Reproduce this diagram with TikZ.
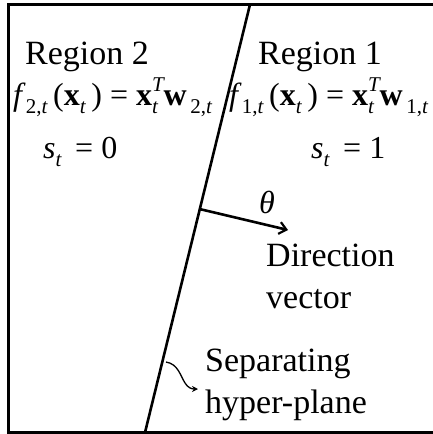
\documentclass[tikz,border=0pt]{standalone}
\usepackage{fontspec}
\setmainfont{Liberation Serif}
\usetikzlibrary{arrows.meta,calc}

% small lowered / raised indices for the formulas
\newcommand{\sbs}[1]{\raisebox{-0.28em}{\fontsize{21}{21}\selectfont #1}}
\newcommand{\sps}[1]{\raisebox{0.42em}{\fontsize{21}{21}\selectfont #1}}
\newcommand{\supsub}[2]{\makebox[0pt][l]{\sps{#1}}\sbs{#2}}

\tikzset{
    lbl/.style={inner sep=0pt, anchor=base west, font=\fontsize{34}{42}\selectfont},
    eqn/.style={inner sep=0pt, anchor=base west, font=\fontsize{32}{38}\selectfont},
    edge/.style={line width=2.6pt},
}

\begin{document}
\begin{tikzpicture}[x=1pt, y=-1pt]
    \useasboundingbox (0,0) rectangle (432,434);

    % Frame
    \draw[edge] (434,4.5) -- (8.5,4.5) -- (8.5,432.5) -- (434,432.5);

    % Separating hyper-plane
    \coordinate (ptop) at (250,4.5);
    \coordinate (pbot) at (145,432.5);
    \draw[edge] (ptop) -- (pbot);

    % Region 2 (left)
    \node[lbl] (reg2) at (25,64) {Region 2};
    \node[eqn] (eq2) at (13,105) {\textit{f}\sbs{2,\textit{t}}\,(\textbf{x}\sbs{\textit{t}}\,) = \textbf{x}\supsub{\textit{T}}{\textit{t}}\,\textbf{w}\sbs{\,2,\textit{t}}};
    \node[eqn] (s2) at (43,158) {\textit{s}\sbs{\textit{t}}\, = 0};

    % Region 1 (right)
    \node[lbl] (reg1) at (258,64) {Region 1};
    \node[eqn] (eq1) at (229,105) {\textit{f}\sbs{1,\textit{t}}\,(\textbf{x}\sbs{\textit{t}}\,) = \textbf{x}\supsub{\textit{T}}{\textit{t}}\,\textbf{w}\sbs{\,1,\textit{t}}};
    \node[eqn] (s1) at (311,158) {\textit{s}\sbs{\textit{t}}\, = 1};

    % Direction vector
    \coordinate (dstart) at ($(ptop)!0.478!(pbot)$);
    \coordinate (dend) at (288,230);
    \draw[edge, -{Straight Barb[length=7pt, width=12pt, line width=2.2pt]}] (dstart) -- (dend);
    \node[eqn] (theta) at (259,213) {\textit{θ}};
    \node[lbl, align=left, anchor=north west] (dirtxt) at (266,244) {Direction\\vector};

    % Pointer to the hyper-plane
    \coordinate (hstart) at (166,362);
    \node[lbl, align=left, anchor=north west] (septxt) at (205,349) {Separating\\hyper-plane};
    \draw[line width=1.3pt, -{Stealth[length=6pt, width=6pt]}]
        (hstart) .. controls (178,364) and (180,375) .. (185,383)
        .. controls (188,388) and (192,389) .. (198,389);

\end{tikzpicture}
\end{document}
